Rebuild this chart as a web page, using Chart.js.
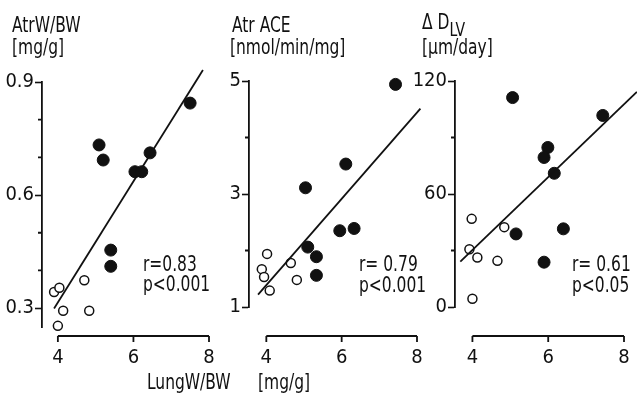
<!DOCTYPE html>
<html>
<head>
<meta charset="utf-8">
<script src="https://cdn.jsdelivr.net/npm/chart.js@4.4.1/dist/chart.umd.min.js"></script>
<style>
    body { margin: 0; background: #fff; width: 637px; height: 397px; overflow: hidden; position: relative;
           font-family: "Liberation Sans Narrow", "DejaVu Sans Condensed", sans-serif; color: #111; }
    canvas { position: absolute; top: 0; }
    .t { position: absolute; font-size: 21px; line-height: 21px; white-space: nowrap;
         transform: scaleX(0.82); transform-origin: 0 0; }
    sub { font-size: 19px; vertical-align: -7px; line-height: 0; }
</style>
</head>
<body>
<canvas id="c1" width="230" height="397" style="left:0px"></canvas>
<canvas id="c2" width="240" height="397" style="left:200px"></canvas>
<canvas id="c3" width="227" height="397" style="left:410px"></canvas>

<div class="t" style="left:12px; top:15px;">AtrW/BW</div>
<div class="t" style="left:12px; top:37px;">[mg/g]</div>
<div class="t" style="left:232px; top:15px;">Atr ACE</div>
<div class="t" style="left:230px; top:37px;">[nmol/min/mg]</div>
<div class="t" style="left:422px; top:12px;">Δ D<sub>LV</sub></div>
<div class="t" style="left:422px; top:37px;">[µm/day]</div>

<div class="t" style="left:143px; top:254px;">r=0.83</div>
<div class="t" style="left:143px; top:274px;">p&lt;0.001</div>
<div class="t" style="left:359px; top:254px;">r= 0.79</div>
<div class="t" style="left:359px; top:275px;">p&lt;0.001</div>
<div class="t" style="left:572px; top:254px;">r= 0.61</div>
<div class="t" style="left:572px; top:275px;">p&lt;0.05</div>

<div class="t" style="left:147px; top:372px;">LungW/BW</div>
<div class="t" style="left:258px; top:372px;">[mg/g]</div>

<script>
// shared x axis: LungW/BW [mg/g]
const xTicks = [4, 6, 8];

// AtrW/BW [mg/g]
const atrwFilledX = [7.5, 5.09, 5.2, 6.44, 6.04, 6.22, 5.4, 5.4];
const atrwFilledY = [0.844, 0.733, 0.693, 0.712, 0.662, 0.662, 0.454, 0.411];
const atrwOpenX = [3.9, 4.04, 4.14, 4.0, 4.7, 4.83];
const atrwOpenY = [0.343, 0.354, 0.293, 0.253, 0.374, 0.293];
const atrwFitX = [3.9, 7.84];
const atrwFitY = [0.299, 0.932];
const atrwTicks = [0.3, 0.6, 0.9];
const atrwMinor = [0.4, 0.5, 0.7, 0.8];

// Atr ACE [nmol/min/mg]
const aceFilledX = [7.43, 6.11, 5.04, 5.95, 6.33, 5.10, 5.33, 5.33];
const aceFilledY = [4.94, 3.53, 3.11, 2.35, 2.39, 2.06, 1.89, 1.56];
const aceOpenX = [4.02, 3.88, 3.94, 4.09, 4.65, 4.81];
const aceOpenY = [1.94, 1.67, 1.53, 1.29, 1.78, 1.48];
const aceFitX = [3.78, 8.09];
const aceFitY = [1.22, 4.51];
const aceTicks = [1, 3, 5];
const aceMinor = [2, 4];

// delta D_LV [um/day]
const dlvFilledX = [5.06, 7.44, 5.99, 5.89, 6.16, 5.15, 6.40, 5.89];
const dlvFilledY = [111.2, 101.7, 84.7, 79.4, 71.0, 38.8, 41.5, 23.8];
const dlvOpenX = [3.98, 4.84, 3.92, 4.13, 4.66, 4.00];
const dlvOpenY = [46.8, 42.4, 30.7, 26.3, 24.5, 4.4];
const dlvFitX = [3.68, 8.34];
const dlvFitY = [24.1, 114.2];
const dlvTicks = [0, 60, 120];
const dlvMinor = [30, 90];

const ink = "#111";
const font = { family: "'Liberation Sans Narrow', 'DejaVu Sans Condensed', sans-serif", size: 20 };

const pts = (xs, ys) => xs.map((x, i) => ({ x: x, y: ys[i] }));

// draws the detached x axis and the short minor ticks on the y axis
const axisPlugin = {
    id: "axisPlugin",
    afterDraw(chart, args, opts) {
        const ctx = chart.ctx;
        const xs = chart.scales.x;
        const ys = chart.scales.y;
        const axisY = 336;
        ctx.save();
        ctx.strokeStyle = ink;
        ctx.lineWidth = 1.8;
        ctx.beginPath();
        ctx.moveTo(xs.getPixelForValue(xTicks[0]), axisY);
        ctx.lineTo(xs.getPixelForValue(xTicks[xTicks.length - 1]), axisY);
        xTicks.forEach((v) => {
            const px = xs.getPixelForValue(v);
            ctx.moveTo(px, axisY);
            ctx.lineTo(px, axisY + 6);
        });
        const left = chart.chartArea.left;
        opts.minor.forEach((v) => {
            const py = ys.getPixelForValue(v);
            ctx.moveTo(left, py);
            ctx.lineTo(left - 4, py);
        });
        ctx.stroke();
        ctx.restore();
    },
};

// box values are page pixels; offset is the canvas left edge
function makePanel(id, offset, box, yRange, yTicks, yMinor, filled, open, fit) {
    const canvas = document.getElementById(id);
    new Chart(canvas, {
        type: "scatter",
        data: {
            datasets: [
                {
                    type: "line",
                    data: fit,
                    borderColor: ink,
                    borderWidth: 1.8,
                    pointRadius: 0,
                    fill: false,
                    clip: false,
                },
                {
                    data: filled,
                    pointRadius: 6,
                    pointBackgroundColor: ink,
                    pointBorderColor: ink,
                    pointBorderWidth: 1,
                    clip: false,
                },
                {
                    data: open,
                    pointRadius: 4.5,
                    pointBackgroundColor: "#fff",
                    pointBorderColor: ink,
                    pointBorderWidth: 1.5,
                    clip: false,
                },
            ],
        },
        options: {
            responsive: false,
            animation: false,
            layout: { padding: { top: box.top, right: offset + canvas.width - box.right, left: 0, bottom: 0 } },
            plugins: { legend: { display: false }, tooltip: { enabled: false }, axisPlugin: { minor: yMinor } },
            scales: {
                x: {
                    type: "linear",
                    min: box.xMin,
                    max: 8,
                    afterBuildTicks: (s) => { s.ticks = xTicks.map((v) => ({ value: v })); },
                    afterFit: (s) => { s.height = 397 - box.bottom; },
                    border: { display: false },
                    // invisible tick marks only push the labels down to sit under the detached axis
                    grid: { display: false, drawTicks: true, tickLength: box.xPad },
                    ticks: { color: ink, font: font, padding: 0, maxRotation: 0 },
                },
                y: {
                    type: "linear",
                    min: yRange[0],
                    max: yRange[1],
                    afterBuildTicks: (s) => { s.ticks = yTicks.map((v) => ({ value: v })); },
                    afterFit: (s) => { s.width = box.left - offset; },
                    border: { display: true, color: ink, width: 1.8 },
                    grid: { drawOnChartArea: false, drawTicks: true, tickLength: 7, tickColor: ink, tickWidth: 1.6 },
                    ticks: { color: ink, font: font, padding: 1 },
                },
            },
        },
        plugins: [axisPlugin],
    });
}

makePanel("c1", 0, { left: 42, right: 209, top: 82, bottom: 327, xMin: 3.58, xPad: 19 },
    [0.25, 0.9], atrwTicks, atrwMinor,
    pts(atrwFilledX, atrwFilledY), pts(atrwOpenX, atrwOpenY), pts(atrwFitX, atrwFitY));

makePanel("c2", 200, { left: 249, right: 417, top: 81, bottom: 307, xMin: 3.54, xPad: 39 },
    [1, 5], aceTicks, aceMinor,
    pts(aceFilledX, aceFilledY), pts(aceOpenX, aceOpenY), pts(aceFitX, aceFitY));

makePanel("c3", 410, { left: 455, right: 624, top: 81, bottom: 307, xMin: 3.54, xPad: 39 },
    [0, 120], dlvTicks, dlvMinor,
    pts(dlvFilledX, dlvFilledY), pts(dlvOpenX, dlvOpenY), pts(dlvFitX, dlvFitY));
</script>
</body>
</html>
